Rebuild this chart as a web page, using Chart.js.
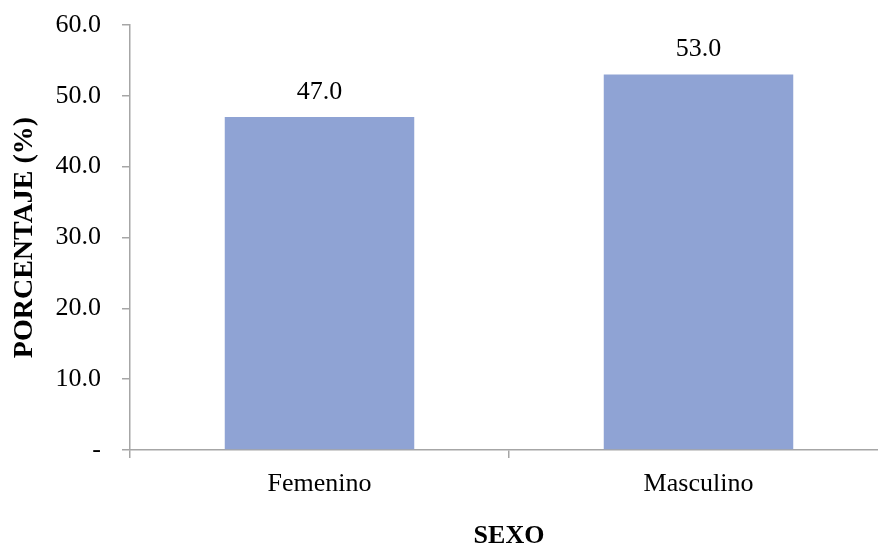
<!DOCTYPE html>
<html>
<head>
<meta charset="utf-8">
<script src="https://cdn.jsdelivr.net/npm/chart.js@4/dist/chart.umd.min.js"></script>
<style>
  html, body { margin: 0; padding: 0; background: #fff; overflow: hidden; }
  #wrap { width: 900px; height: 549px; position: relative; }
</style>
</head>
<body>
<div id="wrap"><canvas id="c" width="900" height="549"></canvas></div>
<script>
const categories = ['Femenino', 'Masculino'];
const percentages = [47.0, 53.0];
const yTicks = [0, 10, 20, 30, 40, 50, 60];

const serif = '"Liberation Serif", "Times New Roman", serif';
const axisGray = '#a6a6a6';

// value labels above each bar
const valueLabels = {
  id: 'valueLabels',
  afterDatasetsDraw(chart) {
    const ctx = chart.ctx;
    const meta = chart.getDatasetMeta(0);
    ctx.save();
    ctx.font = '26px ' + serif;
    ctx.fillStyle = '#000';
    ctx.textAlign = 'center';
    ctx.textBaseline = 'middle';
    meta.data.forEach((bar, i) => {
      ctx.fillText(percentages[i].toFixed(1), bar.x, bar.y - 25);
    });
    ctx.restore();
  }
};

new Chart(document.getElementById('c'), {
  type: 'bar',
  data: {
    labels: categories,
    datasets: [{
      data: percentages,
      backgroundColor: '#8fa3d4',
      borderWidth: 0,
      categoryPercentage: 1.0,
      barPercentage: 0.5
    }]
  },
  options: {
    responsive: false,
    animation: false,
    events: [],
    layout: { padding: { top: 25, right: 12, bottom: 0, left: 0 } },
    plugins: { legend: { display: false }, tooltip: { enabled: false } },
    scales: {
      x: {
        offset: true,
        grid: { display: true, drawOnChartArea: false, drawTicks: true, tickLength: 8, offset: true, color: axisGray, lineWidth: 1.5 },
        border: { display: true, color: axisGray, width: 1.5 },
        ticks: { color: '#000', font: { family: serif, size: 26 }, padding: 11, maxRotation: 0 },
        title: { display: true, text: 'SEXO', color: '#000', font: { family: serif, size: 26, weight: 'bold', lineHeight: 1 }, padding: { top: 0, bottom: 0 } },
        afterFit(scale) {
          scale.height = 99;
          scale.paddingLeft = 0;
          scale.paddingRight = 0;
        }
      },
      y: {
        min: 0,
        max: 60,
        afterBuildTicks(scale) { scale.ticks = yTicks.map(v => ({ value: v })); },
        grid: { display: true, drawOnChartArea: false, drawTicks: true, tickLength: 8, color: axisGray, lineWidth: 1.5 },
        border: { display: true, color: axisGray, width: 1.5 },
        ticks: {
          color: '#000',
          font: { family: serif, size: 26 },
          padding: 21,
          callback: v => (v === 0 ? '-' : Number(v).toFixed(1))
        },
        title: { display: true, text: 'PORCENTAJE (%)', color: '#000', font: { family: serif, size: 28, weight: 'bold', lineHeight: 1 }, padding: { top: 11, bottom: 0 } },
        afterFit(scale) {
          scale.width = 130;
          scale.paddingTop = 0;
          scale.paddingBottom = 0;
        }
      }
    }
  },
  plugins: [valueLabels]
});
</script>
</body>
</html>
